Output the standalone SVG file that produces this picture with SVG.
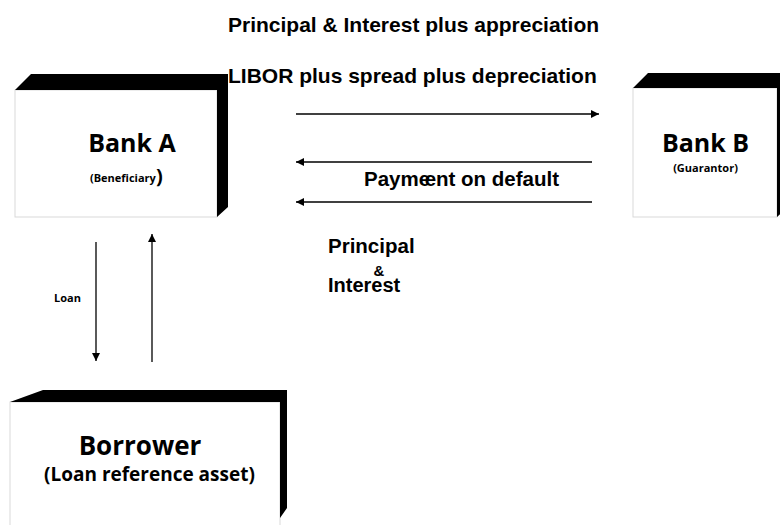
<svg xmlns="http://www.w3.org/2000/svg" width="780" height="525" viewBox="0 0 780 525">
<style>
.front{fill:#fff;stroke:#d9d9d9;stroke-width:1}
.side{fill:#000}
.cal{font-family:"Open Sans","Noto Sans",sans-serif;font-weight:bold;fill:#000}
.ar{font-family:"Liberation Sans",Arial,sans-serif;font-weight:bold;fill:#000}
.conn line{stroke:#000;stroke-width:1.3;fill:none}
</style>
<defs>
<marker id="ah" markerUnits="userSpaceOnUse" markerWidth="9" markerHeight="9" refX="8" refY="4" orient="auto">
<path d="M0,0 L8,4 L0,8 z" fill="#000"/>
</marker>
</defs>
<rect width="780" height="525" fill="#fff"/>
<g id="bankA">
<rect class="front" x="15" y="90" width="202" height="127"/>
<polygon class="side" points="15,90 31,74 228,74 228,207 217,217 217,90"/>
<text class="cal" x="132" y="152" font-size="25" text-anchor="middle">Bank A</text>
<text class="cal" x="90" y="182" font-size="11">(Beneficiary<tspan font-size="20" dy="1">)</tspan></text>
</g>
<g id="bankB">
<rect class="front" x="633" y="88" width="144" height="129"/>
<polygon class="side" points="633,88 648,73 790,73 790,205 777,217 777,88"/>
<text class="cal" x="705.5" y="152" font-size="25" text-anchor="middle">Bank B</text>
<text class="cal" x="705.5" y="172" font-size="11" text-anchor="middle">(Guarantor)</text>
</g>
<g id="borrower">
<rect class="front" x="10" y="402" width="270" height="130"/>
<polygon class="side" points="10,402 43,390 287,390 287,508 280,518 280,402"/>
<text class="cal" x="140" y="455" font-size="26" text-anchor="middle">Borrower</text>
<text class="cal" x="149.5" y="481" font-size="19" text-anchor="middle">(Loan reference asset)</text>
</g>
<g id="connectors" class="conn">
<line x1="296" y1="114" x2="599" y2="114" marker-end="url(#ah)"/>
<line x1="592" y1="162" x2="296" y2="162" marker-end="url(#ah)"/>
<line x1="592" y1="202" x2="296" y2="202" marker-end="url(#ah)"/>
<line x1="96" y1="242" x2="96" y2="361" marker-end="url(#ah)"/>
<line x1="152" y1="362" x2="152" y2="234" marker-end="url(#ah)"/>
</g>
<g id="labels">
<text class="ar" x="228" y="32" font-size="21">Principal &amp; Interest plus appreciation</text>
<text class="ar" x="228" y="83" font-size="21">LIBOR plus spread plus depreciation</text>
<text class="ar" x="364" y="186" font-size="20.5">Paym<tspan>e</tspan><tspan dx="-5.5">ent on default</tspan></text>
<text class="ar" x="328" y="253" font-size="20.5">Principal</text>
<text class="ar" x="379" y="276" font-size="15" text-anchor="middle">&amp;</text>
<text class="ar" x="328" y="292" font-size="20">Interest</text>
<text class="cal" x="54" y="302" font-size="11">Loan</text>
</g>
</svg>
